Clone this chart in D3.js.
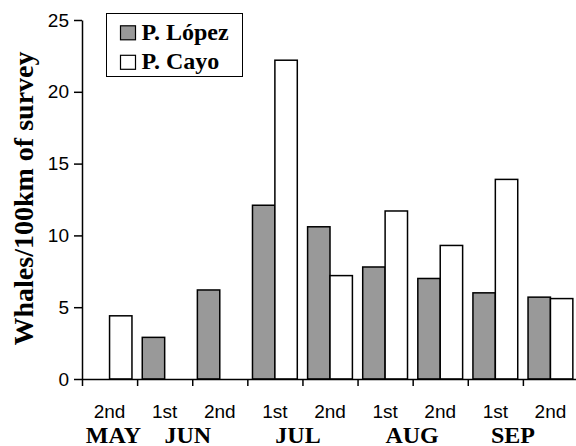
<!DOCTYPE html>
<html><head><meta charset="utf-8">
<script src="https://cdn.jsdelivr.net/npm/d3@7"></script>
<style>body{margin:0;background:#fff}svg{display:block}</style>
</head><body>
<script>
const halves = ["2nd","1st","2nd","1st","2nd","1st","2nd","1st","2nd"];
const lopez = [null, 2.9, 6.2, 12.1, 10.6, 7.8, 7.0, 6.0, 5.7];
const cayo  = [4.4, null, null, 22.2, 7.2, 11.7, 9.3, 13.9, 5.6];
const seriesNames = ["P. López", "P. Cayo"];
const yTicks = [0, 5, 10, 15, 20, 25];
const months = ["MAY", "JUN", "JUL", "AUG", "SEP"];
const monthAt = [0.07, 1.42, 3.42, 5.49, 7.32]; // in category units

(function () {
const W = 576, H = 446;
const svg = d3.select("body").append("svg").attr("width", W).attr("height", H);
const pL = 82, pR = 578, pT = 20, pB = 379;

const idx = halves.map((d, i) => i);
const x = d3.scaleBand().domain(idx).range([pL, pR]).paddingInner(0).paddingOuter(0);
const xs = d3.scaleBand().domain([0, 1]).range([0, x.bandwidth()]).paddingInner(0).paddingOuter(0.23);
const y = d3.scaleLinear().domain([0, 25]).range([pB, pT]);
const xl = d3.scaleLinear().domain([0, halves.length]).range([pL, pR]);

const fills = ["#999999", "#ffffff"];
const data = [lopez, cayo];

const g = svg.append("g");
data.forEach((vals, s) => {
  g.selectAll(null).data(vals.map((v, i) => ({v, i})).filter(d => d.v != null))
    .enter().append("rect")
    .attr("x", d => x(d.i) + xs(s))
    .attr("width", xs.bandwidth())
    .attr("y", d => y(d.v))
    .attr("height", d => y(0) - y(d.v))
    .attr("fill", fills[s])
    .attr("stroke", "#000").attr("stroke-width", 1.5);
});

const ya = svg.append("g").attr("transform", `translate(${pL},0)`)
  .call(d3.axisLeft(y).tickValues(yTicks).tickSize(8).tickPadding(5).tickSizeOuter(0));
ya.select(".domain").attr("stroke-width", 1.5);
ya.selectAll(".tick line").attr("stroke-width", 1.5);
ya.selectAll("text").attr("font-family", "Liberation Sans, Arial, sans-serif").attr("font-size", 19).attr("fill", "#000");

const xa = svg.append("g").attr("transform", `translate(0,${pB})`)
  .call(d3.axisBottom(xl).tickValues(d3.range(0, halves.length)).tickSize(7).tickSizeOuter(0).tickFormat(""));
xa.select(".domain").attr("stroke-width", 1.5);
xa.selectAll(".tick line").attr("stroke-width", 1.5);

svg.append("g").selectAll("text").data(halves).enter().append("text")
  .attr("x", (d, i) => x(i) + x.bandwidth() / 2)
  .attr("y", 418)
  .attr("text-anchor", "middle")
  .attr("font-family", "Liberation Sans, Arial, sans-serif").attr("font-size", 19)
  .text(d => d);

svg.append("g").selectAll("text").data(months).enter().append("text")
  .attr("x", (d, i) => x(0) + (monthAt[i] + 0.5) * x.bandwidth())
  .attr("y", 442.5)
  .attr("text-anchor", "middle")
  .attr("font-family", "Liberation Serif, Times New Roman, serif").attr("font-weight", "bold").attr("font-size", 24)
  .text(d => d);

svg.append("text")
  .attr("transform", `translate(33,198.5) rotate(-90)`)
  .attr("text-anchor", "middle")
  .attr("font-family", "Liberation Serif, Times New Roman, serif").attr("font-weight", "bold").attr("font-size", 28)
  .text("Whales/100km of survey");

const lg = svg.append("g");
lg.append("rect").attr("x", 106.5).attr("y", 13.5).attr("width", 136).attr("height", 63)
  .attr("fill", "#fff").attr("stroke", "#000").attr("stroke-width", 1);
seriesNames.forEach((n, s) => {
  const cy = 32.8 + s * 29.5;
  lg.append("rect").attr("x", 120.5).attr("y", cy - 7).attr("width", 15).attr("height", 14)
    .attr("fill", fills[s]).attr("stroke", "#000").attr("stroke-width", 1.2);
  lg.append("text").attr("x", 141.5).attr("y", cy + 7)
    .attr("font-family", "Liberation Serif, Times New Roman, serif").attr("font-weight", "bold").attr("font-size", 24)
    .text(n);
});
})();
</script>
</body></html>
